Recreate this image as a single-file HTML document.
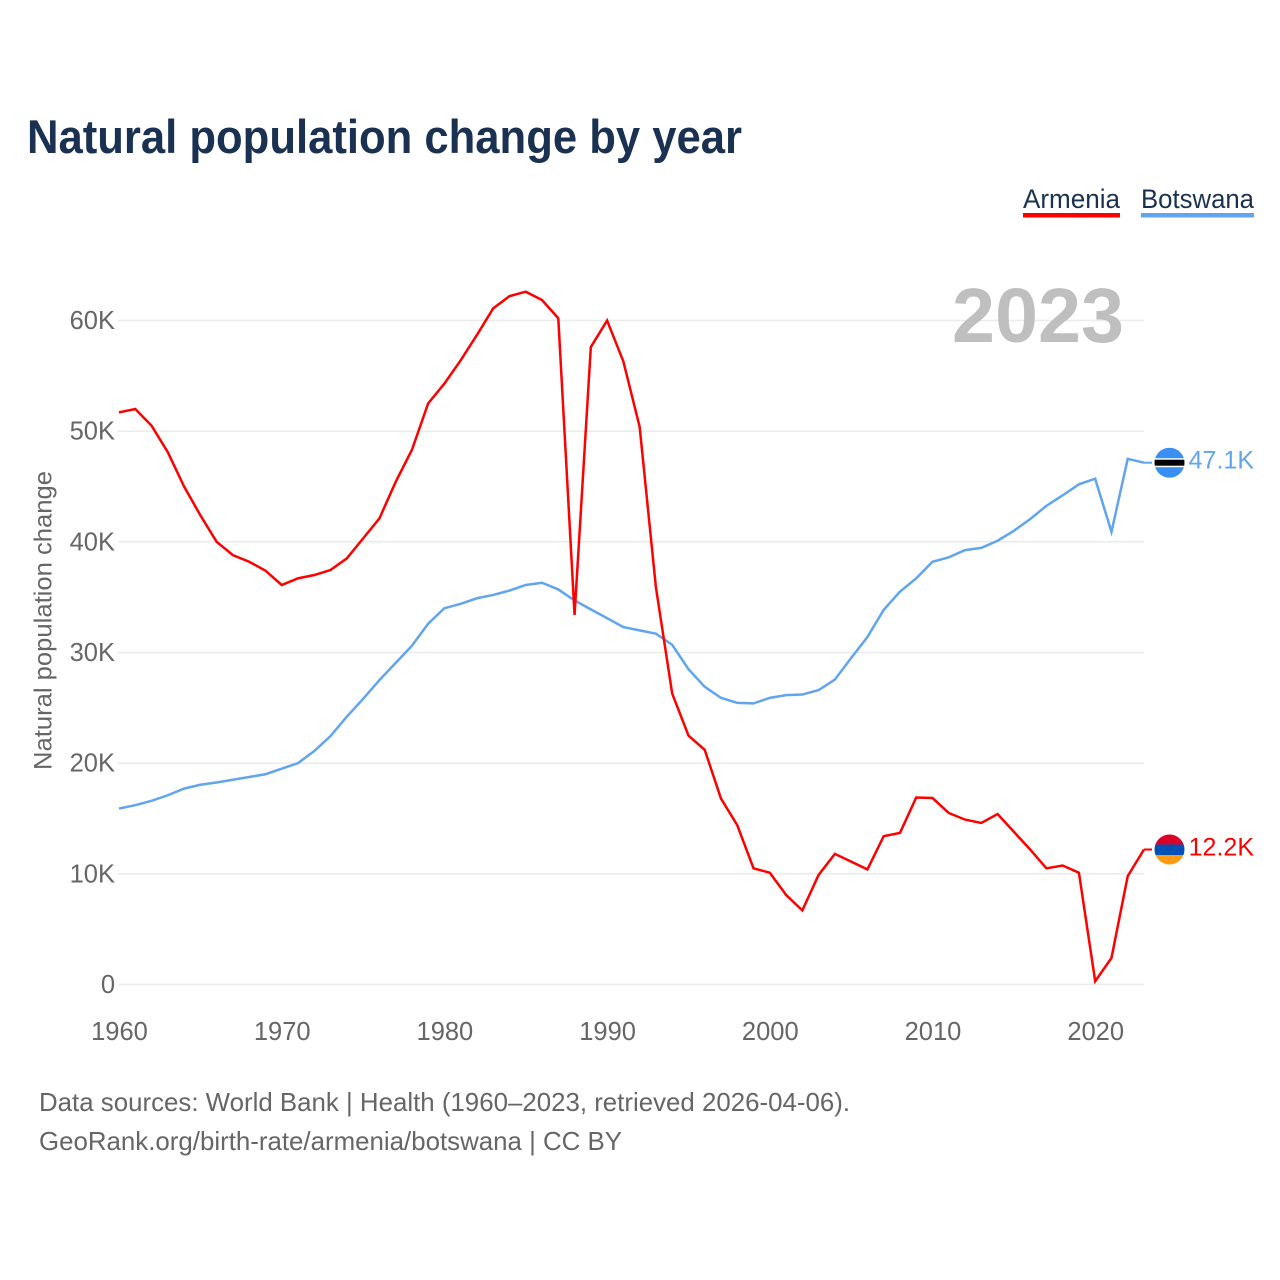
<!DOCTYPE html>
<html lang="en">
<head>
<meta charset="utf-8">
<title>Natural population change by year</title>
<style>
  html, body { margin: 0; padding: 0; background: #fff; }
  svg { display: block; font-family: "Liberation Sans", sans-serif; }
</style>
</head>
<body>
<svg id="chart" xmlns="http://www.w3.org/2000/svg" width="1280" height="1280" viewBox="0 0 1280 1280">
  <defs>
    <clipPath id="flag-clip-a"><circle cx="0" cy="0" r="15"></circle></clipPath>
  </defs>
  <rect x="0" y="0" width="1280" height="1280" fill="#ffffff"></rect>
  <text x="27" y="153" font-size="47" font-weight="700" fill="#1a3152" textLength="715" lengthAdjust="spacingAndGlyphs">Natural population change by year</text>

  <g>
    <text x="1023" y="208" font-size="27" fill="#1a3152" textLength="97" lengthAdjust="spacingAndGlyphs">Armenia</text>
    <rect x="1023" y="213" width="97" height="4.5" fill="#ff0000"></rect>
  </g>
  <g>
    <text x="1141" y="208" font-size="27" fill="#1a3152" textLength="113" lengthAdjust="spacingAndGlyphs">Botswana</text>
    <rect x="1141" y="213" width="113" height="4.5" fill="#60a5ee"></rect>
  </g>

  <text x="44" y="620.5" font-size="25" fill="#666666" text-anchor="middle" textLength="299" lengthAdjust="spacingAndGlyphs" transform="rotate(-90 44 620.5) translate(0 7.5)">Natural population change</text>

  <g id="grid"></g>
  <g id="y-ticks"></g>
  <g id="x-ticks"></g>

  <text x="1124" y="342" font-size="77" font-weight="700" fill="#bfbfbf" text-anchor="end" textLength="172" lengthAdjust="spacingAndGlyphs">2023</text>

  <g id="series"></g>

  <g id="flag-botswana">
    <g clip-path="url(#flag-clip-a)">
      <rect x="-15" y="-15" width="30" height="30" fill="#3a8ff5"></rect>
      <rect x="-15" y="-4.5" width="30" height="9" fill="#ffffff"></rect>
      <rect x="-15" y="-3" width="30" height="6" fill="#000000"></rect>
    </g>
  </g>
  <g id="flag-armenia">
    <g clip-path="url(#flag-clip-a)">
      <rect x="-15" y="-15" width="30" height="10" fill="#d90029"></rect>
      <rect x="-15" y="-5" width="30" height="10.5" fill="#0050b5"></rect>
      <rect x="-15" y="5.5" width="30" height="10" fill="#ff9a12"></rect>
    </g>
  </g>

  <text id="value-botswana" x="1254" font-size="25" fill="#60a5ee" text-anchor="end">47.1K</text>
  <text id="value-armenia" x="1254" font-size="25" fill="#ff0000" text-anchor="end">12.2K</text>

  <text x="39" y="1111" font-size="26" fill="#666666" textLength="811" lengthAdjust="spacingAndGlyphs">Data sources: World Bank | Health (1960–2023, retrieved 2026-04-06).</text>
  <text x="39" y="1150" font-size="26" fill="#666666" textLength="583" lengthAdjust="spacingAndGlyphs">GeoRank.org/birth-rate/armenia/botswana | CC BY</text>
</svg>

<script>
const startYear = 1960;
const armeniaValues = [
  51.7, 52.0, 50.5, 48.1, 45.0, 42.4, 40.0, 38.8, 38.2, 37.4,
  36.1, 36.7, 37.0, 37.45, 38.5, 40.3, 42.1, 45.4, 48.3, 52.5,
  54.3, 56.4, 58.7, 61.1, 62.2, 62.6, 61.85, 60.2, 33.4, 57.6,
  60.0, 56.3, 50.4, 35.9, 26.3, 22.5, 21.2, 16.8, 14.4, 10.5,
  10.1, 8.1, 6.7, 9.9, 11.8, 11.1, 10.4, 13.4, 13.7, 16.9,
  16.85, 15.5, 14.9, 14.6, 15.4, 13.8, 12.2, 10.5, 10.75, 10.1,
  0.3, 2.4, 9.8, 12.2
];
const botswanaValues = [
  15.9, 16.2, 16.6, 17.1, 17.7, 18.05, 18.25, 18.5, 18.75, 19.0,
  19.5, 20.0, 21.1, 22.45, 24.2, 25.8, 27.5, 29.05, 30.6, 32.6,
  34.0, 34.4, 34.9, 35.2, 35.6, 36.1, 36.3, 35.7, 34.7, 33.9,
  33.1, 32.3, 32.0, 31.7, 30.7, 28.5, 26.9, 25.9, 25.45, 25.4,
  25.9, 26.15, 26.2, 26.6, 27.55, 29.5, 31.4, 33.85, 35.5, 36.7,
  38.2, 38.6, 39.25, 39.45, 40.1, 41.0, 42.05, 43.25, 44.2, 45.2,
  45.7, 40.9, 47.5, 47.15
];
const yTickValues = [0, 10, 20, 30, 40, 50, 60];
const yTickLabels = ["0", "10K", "20K", "30K", "40K", "50K", "60K"];
const xTickValues = [1960, 1970, 1980, 1990, 2000, 2010, 2020];
const xTickLabels = ["1960", "1970", "1980", "1990", "2000", "2010", "2020"];

const SVG_NS = "http://www.w3.org/2000/svg";
function xScale(year) { return 119 + (year - 1960) * (1144 - 119) / 63; }
function yScale(value) { return 984.5 - value * (984.5 - 320.5) / 60; }

const gridGroup = document.getElementById("grid");
const yTickGroup = document.getElementById("y-ticks");
yTickValues.forEach(function (v, i) {
  const line = document.createElementNS(SVG_NS, "line");
  line.setAttribute("x1", 118);
  line.setAttribute("x2", 1144);
  line.setAttribute("y1", yScale(v));
  line.setAttribute("y2", yScale(v));
  line.setAttribute("stroke", "#ececec");
  line.setAttribute("stroke-width", "1.6");
  
  
  gridGroup.appendChild(line);

  const label = document.createElementNS(SVG_NS, "text");
  label.setAttribute("x", 115);
  label.setAttribute("y", yScale(v) + 8.5);
  label.setAttribute("font-size", "25.5");
  label.setAttribute("fill", "#666666");
  label.setAttribute("text-anchor", "end");
  
  
  label.textContent = yTickLabels[i];
  yTickGroup.appendChild(label);
});

const xTickGroup = document.getElementById("x-ticks");
xTickValues.forEach(function (v, i) {
  const label = document.createElementNS(SVG_NS, "text");
  label.setAttribute("x", xScale(v) + 0.5);
  label.setAttribute("y", 1040);
  label.setAttribute("font-size", "25.5");
  label.setAttribute("fill", "#666666");
  label.setAttribute("text-anchor", "middle");
  
  
  label.textContent = xTickLabels[i];
  xTickGroup.appendChild(label);
});

function pathFrom(values) {
  return values.map(function (v, i) {
    return (i ? "L" : "M") + xScale(startYear + i).toFixed(2) + " " + yScale(v).toFixed(2);
  }).join(" ");
}

const seriesGroup = document.getElementById("series");

const botswanaLine = document.createElementNS(SVG_NS, "path");
botswanaLine.setAttribute("d", pathFrom(botswanaValues));
botswanaLine.setAttribute("fill", "none");
botswanaLine.setAttribute("stroke", "#60a5ee");
botswanaLine.setAttribute("stroke-width", "2.5");
botswanaLine.setAttribute("stroke-linejoin", "miter");


seriesGroup.appendChild(botswanaLine);

const armeniaLine = document.createElementNS(SVG_NS, "path");
armeniaLine.setAttribute("d", pathFrom(armeniaValues));
armeniaLine.setAttribute("fill", "none");
armeniaLine.setAttribute("stroke", "#ff0000");
armeniaLine.setAttribute("stroke-width", "2.5");
armeniaLine.setAttribute("stroke-linejoin", "miter");


seriesGroup.appendChild(armeniaLine);

const lastBotswanaY = yScale(botswanaValues[botswanaValues.length - 1]);
const lastArmeniaY = yScale(armeniaValues[armeniaValues.length - 1]);

const botswanaLeader = document.createElementNS(SVG_NS, "line");
botswanaLeader.setAttribute("x1", 1144);
botswanaLeader.setAttribute("x2", 1152);
botswanaLeader.setAttribute("y1", lastBotswanaY);
botswanaLeader.setAttribute("y2", lastBotswanaY);
botswanaLeader.setAttribute("stroke", "#60a5ee");
botswanaLeader.setAttribute("stroke-width", "2");


seriesGroup.appendChild(botswanaLeader);

const armeniaLeader = document.createElementNS(SVG_NS, "line");
armeniaLeader.setAttribute("x1", 1144);
armeniaLeader.setAttribute("x2", 1152);
armeniaLeader.setAttribute("y1", lastArmeniaY);
armeniaLeader.setAttribute("y2", lastArmeniaY);
armeniaLeader.setAttribute("stroke", "#ff0000");
armeniaLeader.setAttribute("stroke-width", "2");


seriesGroup.appendChild(armeniaLeader);

document.getElementById("flag-botswana").setAttribute("transform", "translate(1169.5 " + lastBotswanaY + ")");
document.getElementById("flag-armenia").setAttribute("transform", "translate(1169.5 " + lastArmeniaY + ")");
document.getElementById("value-botswana").setAttribute("y", lastBotswanaY + 6);
document.getElementById("value-armenia").setAttribute("y", lastArmeniaY + 6);
</script>
</body>
</html>
